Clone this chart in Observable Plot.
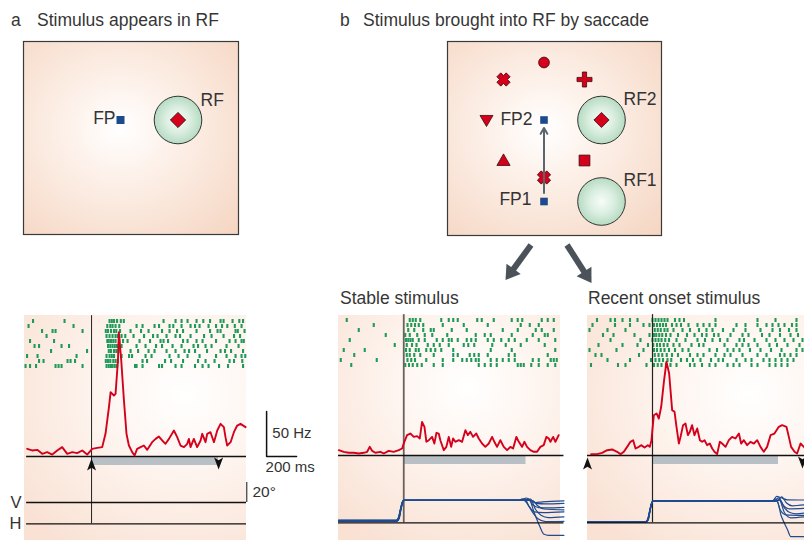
<!DOCTYPE html>
<html><head><meta charset="utf-8">
<script src="https://cdn.jsdelivr.net/npm/d3@7"></script>
<script src="https://cdn.jsdelivr.net/npm/@observablehq/plot@0.6"></script>
<style>
body{margin:0;background:#fff;}
#fig{position:relative;width:804px;height:540px;overflow:hidden;font-family:"Liberation Sans",Arial,sans-serif;color:#333;background:#fff;}
.abs{position:absolute;}
.abs svg{display:block;}
.t{position:absolute;font-size:17.5px;line-height:17.5px;white-space:nowrap;color:#363636;}
</style></head>
<body><div id="fig"></div>
<script>
// ================= DATA =================
// --- panel a (schematic units: 1 unit = 5 px, origin at fixation point)
const aFP = [{x: 0, y: 0}];
const aRF = [{x: 11.5, y: 0}];
const aStim = [{x: 11.5, y: 0, shape: "diamond"}];
const aLabels = [{x: -1.0, y: 0.4, text: "FP", anchor: "end"}, {x: 16.0, y: 3.9, text: "RF", anchor: "start"}];

// --- panel b (origin at FP2)
const bFP = [{x: 0, y: 0}, {x: 0, y: -16.3}];
const bRF = [{x: 11.5, y: 0}, {x: 11.5, y: -16.3}];
const bStimShape = ["circle", "cross", "plus", "triDown", "diamond", "triUp", "square", "cross"];
const bStimX = [0, -8.1, 8.1, -11.5, 11.5, -8.1, 8.1, 0];
const bStimY = [11.5, 8.1, 8.1, 0, 0, -8.1, -8.1, -11.5];
const bLabels = [
  {x: -2.3, y: 0.1, text: "FP2", anchor: "end"},
  {x: -2.5, y: -15.9, text: "FP1", anchor: "end"},
  {x: 15.9, y: 4.1, text: "RF2", anchor: "start"},
  {x: 15.9, y: -12.0, text: "RF1", anchor: "start"}
];
const bSaccade = [{x1: 0, y1: -14.6, x2: 0, y2: -1.6}];
const bBigArrows = [{x1: -2.6, y1: -25.0, x2: -7.7, y2: -32.0}, {x1: 4.6, y1: -25.0, x2: 9.5, y2: -32.6}];

// --- firing rates (t in ms from event, Hz)
const rateA = [[-429,8.5],[-396,6.7],[-362,7.4],[-329,3.0],[-296,4.8],[-262,2.2],[-229,6.7],[-196,10.4],[-162,3.0],[-129,4.8],[-96,3.7],[-62,6.7],[-29,2.2],[4,8.5],[38,9.6],[71,10.4],[93,25.2],[116,54.8],[127,71.5],[149,67.8],[160,69.6],[176,106.7],[182,138.1],[198,106.7],[216,62.2],[233,25.2],[249,12.2],[271,4.8],[287,1.1],[304,8.5],[327,10.4],[349,12.2],[371,7.4],[404,15.9],[427,19.6],[449,22.2],[471,17.8],[493,14.1],[516,19.6],[549,28.9],[571,21.5],[593,12.2],[616,10.4],[638,14.1],[649,19.6],[660,10.4],[682,19.6],[704,10.4],[727,17.8],[738,25.2],[760,15.9],[771,25.2],[793,27.0],[816,15.9],[838,28.9],[860,36.3],[882,32.6],[893,21.5],[904,12.2],[927,15.9],[949,27.0],[971,34.4],[993,36.3],[1027,32.6]];
const rateStable = [[-433,5.9],[-400,4.1],[-367,3.0],[-333,3.0],[-300,2.2],[-267,3.0],[-244,4.1],[-227,9.6],[-211,5.2],[-189,3.0],[-156,4.1],[-133,2.2],[-100,5.2],[-67,4.1],[-33,5.9],[-11,7.8],[4,15.2],[22,22.6],[44,24.4],[67,20.7],[89,21.5],[107,18.9],[122,37.4],[138,31.9],[151,15.2],[167,17.0],[189,20.7],[204,13.3],[218,25.2],[233,24.4],[244,17.0],[267,5.9],[284,9.6],[300,20.7],[316,9.6],[329,18.9],[344,15.2],[367,17.0],[389,15.2],[411,28.1],[427,22.6],[444,26.3],[462,20.7],[484,24.4],[500,18.9],[522,13.3],[544,9.6],[567,13.3],[589,20.7],[604,15.2],[622,9.6],[644,17.0],[667,9.6],[689,5.9],[711,9.6],[729,7.8],[751,20.7],[767,15.2],[789,9.6],[804,15.2],[822,9.6],[844,5.9],[867,4.1],[889,4.1],[911,9.6],[933,11.5],[951,20.7],[967,18.9],[978,15.2],[996,20.7],[1011,15.2],[1033,22.6]];
const rateRecent = [[-409,1.5],[-369,1.5],[-336,3.0],[-302,5.9],[-269,6.7],[-236,4.1],[-213,1.5],[-191,4.1],[-169,9.6],[-147,15.2],[-129,17.0],[-113,7.8],[-91,9.6],[-76,11.5],[-53,8.9],[-31,11.5],[-18,9.6],[-7,17.0],[9,44.8],[27,46.7],[42,41.1],[58,54.1],[76,81.9],[93,104.1],[111,91.1],[131,50.4],[147,48.5],[160,31.9],[176,13.3],[187,20.7],[204,33.7],[220,35.6],[236,22.6],[249,26.3],[264,33.7],[280,22.6],[298,30.0],[316,17.0],[331,15.2],[347,17.0],[364,11.5],[382,13.3],[398,7.8],[413,4.1],[431,1.5],[449,15.2],[464,13.3],[487,9.6],[509,17.0],[531,20.7],[553,18.9],[576,24.4],[591,13.3],[609,17.0],[631,11.5],[653,15.2],[676,13.3],[698,17.0],[720,9.6],[742,4.1],[764,9.6],[787,22.6],[813,24.4],[842,31.9],[864,33.7],[893,31.9],[909,20.7],[924,9.6],[947,4.1],[964,2.2],[987,13.3],[1009,9.6],[1030,6.0]];

// --- spike rasters (spike times in ms, one array per trial)
const rasterA = [
  [-390,-180,120,135,150,170,195,215,480,560,600,640,700,745,790,860,880,940,985,1010],
  [-420,-120,105,125,140,160,185,300,340,420,450,520,545,600,660,690,720,780,830,870,905,955,1000],
  [-330,-260,-240,-60,95,110,130,150,165,190,260,330,380,470,520,570,610,700,790,840,860,960,975,1020],
  [-300,100,120,140,160,175,200,225,280,350,410,440,500,560,590,660,750,800,880,950,990],
  [-410,-250,105,115,130,145,160,185,210,240,320,390,460,480,510,610,640,700,740,830,920,960,1000,1015],
  [-380,-350,-200,-150,110,125,140,155,170,200,300,360,430,470,540,600,680,710,760,800,900,980],
  [-270,-30,115,130,150,165,180,260,310,380,420,500,560,620,650,690,770,860,890,930,1010],
  [-430,-360,-100,100,120,135,150,200,250,270,360,400,520,580,640,720,830,900,960,1000,1025],
  [-350,-320,-160,-140,-110,95,110,125,145,160,175,340,370,490,530,610,710,760,820,920,950,1005],
  [-440,-410,-370,-240,-220,-200,-60,100,115,130,140,155,170,290,300,340,450,470,560,600,690,740,780,850,910,1010]
];
const rasterStable = [
  [-380,40,60,80,110,250,300,330,360,490,520,600,720,760,790,920,960,1000],
  [-200,25,50,75,100,130,260,400,560,780,840,900],
  [-300,30,70,130,180,200,320,420,660,760,880,920,1000],
  [-120,10,40,90,140,190,290,480,540,580,720,860,940,960],
  [-360,15,30,45,60,100,140,220,260,300,320,360,420,450,480,560,600,650,700,740,820,900,1010],
  [-60,20,55,85,160,200,240,300,400,430,470,590,680,780,940],
  [-400,-260,15,40,80,100,150,180,210,250,330,580,720,1010],
  [-330,20,40,70,110,200,330,360,440,470,500,560,700,740,960],
  [-420,-180,25,50,75,150,260,330,390,420,450,480,500,580,620,660,700,740,860,900,980,1000,1020],
  [-350,10,35,60,90,120,200,260,500,540,580,620,760,780,800,850,900,960,1010]
];
const rasterRecent = [
  [-370,-280,-250,-200,-150,-100,0,20,40,60,80,100,150,180,210,420,700,820,960],
  [-400,-250,-150,-60,-20,10,30,50,70,90,130,160,190,240,300,340,380,420,560,620,700,760,800,840,880,930,960],
  [-420,-300,-180,15,35,55,80,100,140,200,250,310,360,400,470,540,620,720,800,850,910,960],
  [-330,-260,-120,-20,10,25,45,65,90,120,170,230,280,330,360,410,440,520,600,640,730,780,850,920,970],
  [-280,-80,0,20,40,60,85,110,160,220,300,350,400,450,500,580,610,680,760,820,880,940,1000],
  [-360,-200,-100,-30,5,30,50,75,100,140,180,260,310,340,480,560,600,640,700,780,830,900,980],
  [-420,-240,-60,10,30,55,80,110,150,200,240,380,430,500,540,580,650,720,790,860,960,1000],
  [-380,-340,-90,15,40,65,95,130,170,250,300,340,420,480,520,600,700,760,850,880,920,960],
  [-300,-150,-10,20,45,70,100,125,190,230,270,320,390,440,470,560,620,660,740,780,820,860,900,940],
  [-410,-230,-180,-40,10,35,60,90,120,160,250,280,330,380,420,500,540,580,660,700,780,820,860,900]
];

// --- eye position traces (t ms, degrees; H baseline = 0)
const eyeA = {V: 21.3, H: 0};
const eyeStable = [
  [[-435,2.2],[-48,2.2],[-34,4.5],[-20,14],[-8,20.8],[2,22.5],[790,22.5],[815,24.8],[845,22.5],[885,19.5],[940,19],[1068,19.5]],
  [[-435,1.7],[-46,1.7],[-32,4.2],[-18,14.5],[-6,21],[4,22.6],[805,22.6],[830,24],[860,18],[900,15.2],[960,15],[1068,15.5]],
  [[-435,2.6],[-50,2.6],[-36,5],[-22,14],[-10,20.5],[0,22.4],[780,22.4],[805,24.3],[835,16.5],[870,11],[930,10.2],[1068,11]],
  [[-435,1.4],[-45,1.4],[-31,4],[-17,14],[-5,21],[4,22.5],[820,22.5],[845,23.8],[878,13.5],[915,7.5],[965,5.2],[1068,6]],
  [[-435,2.0],[-47,2.0],[-33,4.5],[-19,14.5],[-7,21],[3,22.5],[770,22.5],[790,24],[822,19.5],[855,11.5],[895,4],[945,1.2],[1068,1.5]],
  [[-435,2.4],[-49,2.4],[-35,5],[-21,14],[-9,20.7],[1,22.5],[835,22.5],[862,22],[893,17],[935,13.8],[1068,13]],
  [[-435,1.9],[-47,1.9],[-33,4.5],[-19,14],[-7,21],[3,22.5],[850,22.5],[880,20.2],[925,21],[1068,22]],
  [[-435,2.3],[-48,2.3],[-34,4.8],[-20,14.2],[-8,20.8],[2,22.5],[810,22.5],[836,23.2],[870,10],[905,-3],[935,-11.5],[965,-12.5],[1068,-12.5]]
];
const eyeRecent = [
  [[-433,0.9],[-44,0.9],[-30,3.5],[-16,13],[-4,20],[6,21.7],[800,21.7],[828,26.5],[858,25],[900,23],[1020,22.8]],
  [[-433,0.4],[-42,0.4],[-28,3],[-14,13.5],[-2,20.5],[8,21.8],[812,21.8],[840,25],[870,18],[912,14],[1020,14.5]],
  [[-433,1.2],[-46,1.2],[-32,3.8],[-18,13],[-6,20],[4,21.6],[795,21.6],[823,24],[853,12.5],[890,8],[1020,7.5]],
  [[-433,0.6],[-43,0.6],[-29,3.2],[-15,13.5],[-3,20.4],[7,21.7],[822,21.7],[850,23],[880,15],[920,10],[960,9],[1020,10]],
  [[-433,0.8],[-44,0.8],[-30,3.4],[-16,13.2],[-4,20.2],[6,21.7],[805,21.7],[830,22.3],[858,7],[878,0],[900,-7],[922,-13.8],[1020,-13.8]],
  [[-433,1.0],[-45,1.0],[-31,3.6],[-17,13],[-5,20],[5,21.7],[832,21.7],[862,26],[892,20],[932,17],[1020,18]],
  [[-433,0.5],[-43,0.5],[-29,3.1],[-15,13.4],[-3,20.5],[7,21.7],[815,21.7],[845,23.2],[880,10],[922,5],[1020,6]]
];

// --- stimulus periods (grey bars, ms) and scale bars
const barA = [0, 847], barStable = [0, 815], barRecent = [0, 840];
const scaleMs = 200, scaleHz = 50, scaleDeg = 20;

// ================= RENDER =================
const RED = "#d5001c", BLUE = "#1c4a8c", GREEN = "#1f9a58", INK = "#333", TRACE = "#1f4b90";
const FONT = "Liberation Sans, Arial, sans-serif";
const fig = document.getElementById("fig");
const SVGNS = "http://www.w3.org/2000/svg";

function defs(markup) { return () => { const g = document.createElementNS(SVGNS, "g"); g.innerHTML = markup; return g; }; }
function mount(node, left, top, width) {
  const d = document.createElement("div");
  d.className = "abs"; d.style.left = left + "px"; d.style.top = top + "px";
  if (width) d.style.width = width + "px";
  d.appendChild(node); fig.appendChild(d); return d;
}
function text(str, left, top) {
  const d = document.createElement("div"); d.className = "t"; d.textContent = str;
  d.style.left = left + "px"; d.style.top = top + "px";
  fig.appendChild(d);
}
function bg(left, top, w, h, css) {
  const d = document.createElement("div"); d.className = "abs";
  Object.assign(d.style, {left: left + "px", top: top + "px", width: w + "px", height: h + "px", background: css});
  fig.appendChild(d);
}
const STYLE = {background: "transparent", overflow: "visible"};
function opts(w, h, m, extra) {
  return Object.assign({width: w, height: h, marginTop: m[0], marginRight: m[1], marginBottom: m[2], marginLeft: m[3], style: STYLE}, extra);
}

// custom symbols (r = half extent in px)
function poly(pts) {
  return {draw(ctx, size) { const r = Math.sqrt(size / Math.PI); ctx.moveTo(pts[0][0] * r, pts[0][1] * r); for (let i = 1; i < pts.length; i++) ctx.lineTo(pts[i][0] * r, pts[i][1] * r); ctx.closePath(); }};
}
const armShape = (w) => [[-w,-1],[w,-1],[w,-w],[1,-w],[1,w],[w,w],[w,1],[-w,1],[-w,w],[-1,w],[-1,-w],[-w,-w]];
const rotate = (p, a) => [p[0] * Math.cos(a) - p[1] * Math.sin(a), p[0] * Math.sin(a) + p[1] * Math.cos(a)];
const SYM = {
  diamond: poly([[0,-1],[1,0],[0,1],[-1,0]]),
  square: poly([[-1,-1],[1,-1],[1,1],[-1,1]]),
  triDown: poly([[-1,-0.7],[1,-0.7],[0,1]]),
  triUp: poly([[0,-1],[1,0.75],[-1,0.75]]),
  plus: poly(armShape(0.28)),
  cross: poly(armShape(0.42).map(p => rotate(p, Math.PI / 4))),
  circle: "circle",
  arrowUp: poly([[0,-1],[0.75,1],[0,0.55],[-0.75,1]]),
  arrowDown: poly([[0,1],[0.75,-1],[0,-0.55],[-0.75,-1]])
};
const SYMR = {circle: 5.4, cross: 6.6, plus: 7.5, triDown: 6.5, diamond: 7.6, triUp: 6.6, square: 5.4};
// filled arrowhead with its tip at the anchor point; base rotated by angle a (screen px)
const headSymbol = (a) => poly([[0,0],[0.8,1.25],[-0.8,1.25]].map(p => rotate(p, a)));

const gradDefs = defs(`<defs>
<radialGradient id="boxGrad" cx="0.45" cy="0.45" r="0.78"><stop offset="0" stop-color="#ffffff"/><stop offset="0.3" stop-color="#fdf2eb"/><stop offset="1" stop-color="#f5d5c1"/></radialGradient>
<radialGradient id="rfGrad" cx="0.5" cy="0.5" r="0.5"><stop offset="0" stop-color="#f7fcf8"/><stop offset="0.5" stop-color="#dcefe2"/><stop offset="1" stop-color="#b6dbc2"/></radialGradient>
</defs>`);

const textOpts = {x: "x", y: "y", text: "text", fontSize: 17.5, fontFamily: FONT, fill: INK};

// ---- titles
text("a", 11, 12.3); text("Stimulus appears in RF", 37, 12.3);
text("b", 340, 12); text("Stimulus brought into RF by saccade", 363, 12);
text("Stable stimulus", 340, 290.3); text("Recent onset stimulus", 588, 290.3);

// ---- panel a schematic
mount(Plot.plot(opts(217, 195, [1,1,1,1], {
  x: {domain: [-19.4, 23.6], axis: null}, y: {domain: [-22.9, 15.7], axis: null},
  marks: [
    gradDefs,
    Plot.frame({fill: "url(#boxGrad)", stroke: "#3a3a3a", strokeWidth: 1.2}),
    Plot.dot(aRF, {x: "x", y: "y", r: 23.8, fill: "url(#rfGrad)", stroke: "#333", strokeWidth: 1}),
    Plot.dot(aStim, {x: "x", y: "y", r: SYMR.diamond, symbol: SYM.diamond, fill: RED, stroke: "#3a0b0b", strokeWidth: 0.9}),
    Plot.dot(aFP, {x: "x", y: "y", r: 4, symbol: SYM.square, fill: BLUE}),
    Plot.text(aLabels.filter(d => d.anchor === "end"), {...textOpts, textAnchor: "end"}),
    Plot.text(aLabels.filter(d => d.anchor === "start"), {...textOpts, textAnchor: "start"})
  ]
})), 22, 40, 217);

// ---- panel b schematic
const bStim = bStimShape.map((s, i) => ({shape: s, x: bStimX[i], y: bStimY[i]}));
const bShapes = [...new Set(bStimShape)];
// big arrows: shaft stops short of the tip, filled head drawn at the tip
const bigShafts = bBigArrows.map(d => {
  const dx = d.x2 - d.x1, dy = d.y2 - d.y1, L = Math.hypot(dx, dy);
  return {x1: d.x1, y1: d.y1, x2: d.x2 - dx / L * 2.2, y2: d.y2 - dy / L * 2.2};
});
mount(Plot.plot(opts(216, 255, [1,1,60,1], {
  x: {domain: [-19.3, 23.5], axis: null}, y: {domain: [-23.1, 15.7], axis: null},
  marks: [
    Plot.frame({fill: "url(#boxGrad)", stroke: "#3a3a3a", strokeWidth: 1.2}),
    Plot.dot(bRF, {x: "x", y: "y", r: 23.8, fill: "url(#rfGrad)", stroke: "#333", strokeWidth: 1}),
    ...bShapes.map(s => Plot.dot(bStim.filter(d => d.shape === s), {x: "x", y: "y", r: SYMR[s], symbol: SYM[s], fill: RED, stroke: "#3a0b0b", strokeWidth: 0.8})),
    Plot.dot(bFP, {x: "x", y: "y", r: 3.8, symbol: SYM.square, fill: BLUE}),
    Plot.arrow(bSaccade, {x1: "x1", y1: "y1", x2: "x2", y2: "y2", stroke: "#5c656e", strokeWidth: 2, headLength: 5}),
    Plot.text(bLabels.filter(d => d.anchor === "end"), {...textOpts, textAnchor: "end"}),
    Plot.text(bLabels.filter(d => d.anchor === "start"), {...textOpts, textAnchor: "start"}),
    Plot.link(bigShafts, {x1: "x1", y1: "y1", x2: "x2", y2: "y2", stroke: "#4b5259", strokeWidth: 6}),
    ...bBigArrows.map(d => Plot.dot([d], {x: "x2", y: "y2", r: 11, fill: "#4b5259",
      symbol: headSymbol(Math.atan2(d.x2 - d.x1, d.y2 - d.y1))}))
  ]
})), 445.5, 40, 216);

// ---- bottom panels
const PXMS = 0.15;  // px per ms
const toRate = (arr) => arr.map(([t, hz]) => ({t, hz}));
const toSpikes = (rows) => rows.flatMap((ts, i) => ts.map(t => ({row: i + 1, t})));
const toEye = (traces) => traces.flatMap((tr, k) => tr.map(([t, v]) => ({trace: k, t, v})));
const ROWS = d3.range(1, 11);

function raster(spikes, domain, w, left, top) {
  mount(Plot.plot(opts(w, 53, [0,0,0,0], {
    x: {domain, axis: null}, y: {type: "band", domain: ROWS, paddingInner: 0.22, paddingOuter: 0, axis: null},
    marks: [Plot.tickX(spikes, {x: "t", y: "row", stroke: GREEN, strokeWidth: 2.1})]
  })), left, top, w);
}

function rateMarks(rate, bar, span, onsetColor, onsetWidth) {
  return [
    Plot.rect([{x1: bar[0], x2: bar[1], y1: -10, y2: 0}], {x1: "x1", x2: "x2", y1: "y1", y2: "y2", fill: "#b9c0c5"}),
    Plot.ruleX([{x: 0, y1: -20, y2: 156.5}], {x: "x", y1: "y1", y2: "y2", stroke: onsetColor, strokeWidth: onsetWidth}),
    Plot.ruleY([{y: 0, x1: span[0], x2: span[1]}], {y: "y", x1: "x1", x2: "x2", stroke: "#111", strokeWidth: 1.3}),
    Plot.line(rate, {x: "t", y: "hz", stroke: RED, strokeWidth: 1.9, strokeLinejoin: "round"})
  ];
}

const BGSTOPS = "#ffffff 0%, #fef5f0 38%, #f9e1d3 100%";
bg(24, 315, 222, 225, `radial-gradient(ellipse 95% 85% at 72% 35%, ${BGSTOPS})`);
bg(338, 315, 222, 225, `radial-gradient(ellipse 85% 80% at 58% 32%, ${BGSTOPS})`);
bg(587, 315, 217, 225, `radial-gradient(ellipse 95% 85% at 75% 35%, ${BGSTOPS})`);

// panel a bottom
const domA = [-447, -447 + 222 / PXMS];
raster(toSpikes(rasterA), domA, 222, 24, 317);
const scaleT0 = 1167;
mount(Plot.plot(opts(297, 162, [0,75,0,0], {
  x: {domain: domA, axis: null}, y: {domain: [-20, 160], axis: null},
  marks: [
    ...rateMarks(toRate(rateA), barA, [-433, 1033], "#222", 1),
    Plot.dot([{t: 0, hz: -8.9}], {x: "t", y: "hz", r: 6, symbol: SYM.arrowUp, fill: "#111"}),
    Plot.dot([{t: barA[1], hz: -7.8}], {x: "t", y: "hz", r: 6, symbol: SYM.arrowDown, fill: "#111"}),
    Plot.line([{t: scaleT0, hz: scaleHz}, {t: scaleT0, hz: 0}, {t: scaleT0 + scaleMs, hz: 0}], {x: "t", y: "hz", stroke: "#111", strokeWidth: 1.5}),
    Plot.text([{t: scaleT0 + 38, hz: 26, s: `${scaleHz} Hz`}], {x: "t", y: "hz", text: "s", textAnchor: "start", fontSize: 15, fontFamily: FONT, fill: INK}),
    Plot.text([{t: scaleT0 - 7, hz: -12, s: `${scaleMs} ms`}], {x: "t", y: "hz", text: "s", textAnchor: "start", fontSize: 15, fontFamily: FONT, fill: INK})
  ]
})), 24, 312, 297);

mount(Plot.plot(opts(291, 66, [0,45,0,24], {
  x: {domain: domA, axis: null}, y: {domain: [-16.7, 49.3], axis: null},
  marks: [
    Plot.ruleX([{x: 0, y1: 0, y2: 49.3}], {x: "x", y1: "y1", y2: "y2", stroke: "#222", strokeWidth: 1}),
    Plot.ruleY([{y: eyeA.V, x1: -433, x2: 1033}, {y: eyeA.H, x1: -433, x2: 1033}], {y: "y", x1: "x1", x2: "x2", stroke: "#111", strokeWidth: 1.3}),
    Plot.ruleX([{x: 1035, y1: eyeA.V, y2: eyeA.V + scaleDeg}], {x: "x", y1: "y1", y2: "y2", stroke: "#111", strokeWidth: 1}),
    Plot.text([{t: 1033, v: eyeA.V + scaleDeg / 2, s: `${scaleDeg}°`}], {x: "t", y: "v", text: "s", dx: 6, textAnchor: "start", fontSize: 15.5, fontFamily: FONT, fill: INK}),
    Plot.text([{t: domA[0], v: eyeA.V, s: "V"}, {t: domA[0], v: eyeA.H, s: "H"}], {x: "t", y: "v", text: "s", dx: -3, textAnchor: "end", fontSize: 16.5, fontFamily: FONT, fill: INK})
  ]
})), 0, 474, 291);

// panel b bottom: stable stimulus
const domS = [-435, -435 + 226 / PXMS];
raster(toSpikes(rasterStable), domS, 226, 338, 315.5);
mount(Plot.plot(opts(226, 162, [0,0,0,0], {
  x: {domain: domS, axis: null}, y: {domain: [-20, 160], axis: null},
  marks: rateMarks(toRate(rateStable), barStable, [-435, 1068], "#6b605b", 1.8)
})), 338, 311.3, 226);
mount(Plot.plot(opts(226, 66, [0,0,0,0], {
  x: {domain: domS, axis: null}, y: {domain: [-16.7, 49.3], axis: null},
  marks: [
    Plot.ruleX([{x: 0, y1: 0, y2: 49.3}], {x: "x", y1: "y1", y2: "y2", stroke: "#6b605b", strokeWidth: 1.8}),
    Plot.line(toEye(eyeStable), {x: "t", y: "v", z: "trace", stroke: TRACE, strokeWidth: 1.2, curve: "monotone-x"}),
    Plot.ruleY([{y: 0, x1: -435, x2: 1068}], {y: "y", x1: "x1", x2: "x2", stroke: "#111", strokeWidth: 1.3})
  ]
})), 338, 473.4, 226);

// panel b bottom: recent onset stimulus
const domR = [-433.3, -433.3 + 218 / PXMS];
raster(toSpikes(rasterRecent), domR, 218, 587, 315.5);
mount(Plot.plot(opts(218, 162, [0,0,0,0], {
  x: {domain: domR, axis: null}, y: {domain: [-20, 160], axis: null},
  marks: [
    ...rateMarks(toRate(rateRecent), barRecent, [-433.3, 1020], "#222", 1.2),
    Plot.dot([{t: -433.3, hz: -8.9}], {x: "t", y: "hz", r: 6, symbol: SYM.arrowUp, fill: "#111"}),
    Plot.dot([{t: 1000, hz: -7.8}], {x: "t", y: "hz", r: 6, symbol: SYM.arrowDown, fill: "#111"})
  ]
})), 587, 311.3, 218);
mount(Plot.plot(opts(218, 66, [0,0,0,0], {
  x: {domain: domR, axis: null}, y: {domain: [-16.7, 49.3], axis: null},
  marks: [
    Plot.ruleX([{x: 0, y1: 0, y2: 49.3}], {x: "x", y1: "y1", y2: "y2", stroke: "#222", strokeWidth: 1.2}),
    Plot.line(toEye(eyeRecent), {x: "t", y: "v", z: "trace", stroke: TRACE, strokeWidth: 1.2, curve: "monotone-x"}),
    Plot.ruleY([{y: 0, x1: -433.3, x2: 1020}], {y: "y", x1: "x1", x2: "x2", stroke: "#111", strokeWidth: 1.3})
  ]
})), 587, 473.4, 218);
</script>
</body></html>
